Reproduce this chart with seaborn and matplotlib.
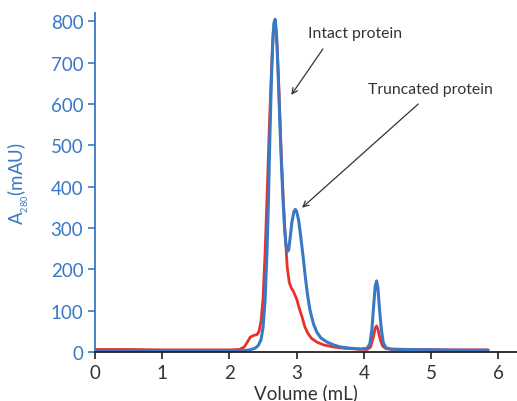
import numpy as np
import pandas as pd
import matplotlib
matplotlib.use("Agg")
import matplotlib.pyplot as plt
import seaborn as sns

# Chromatogram traces (volume in mL, absorbance in mAU)
blue_volume = [0.0, 1.0, 1.8, 2.0, 2.2, 2.3, 2.38, 2.43, 2.47, 2.50, 2.53, 2.56,
               2.58, 2.60, 2.62, 2.64, 2.66, 2.68, 2.70, 2.72, 2.74, 2.76, 2.78,
               2.80, 2.82, 2.84, 2.86, 2.88, 2.90, 2.93, 2.96, 2.98, 3.00, 3.03,
               3.06, 3.10, 3.13, 3.16, 3.20, 3.25, 3.30, 3.36, 3.45, 3.55, 3.65,
               3.80, 3.95, 4.05, 4.09, 4.12, 4.15, 4.17, 4.19, 4.21, 4.23, 4.26,
               4.29, 4.33, 4.40, 4.60, 5.00, 5.50, 5.85]
blue_abs = [1, 1, 1, 2, 3, 5, 9, 16, 30, 60, 125, 250,
            370, 510, 635, 735, 795, 805, 770, 690, 600, 510, 430,
            360, 300, 262, 243, 246, 272, 315, 340, 345, 340, 318,
            280, 225, 180, 140, 100, 68, 48, 34, 24, 17, 12,
            9, 7, 9, 20, 55, 120, 160, 172, 155, 110, 55,
            22, 10, 7, 6, 5, 4, 4]

red_volume = [0.0, 0.5, 1.0, 1.5, 2.0, 2.15, 2.22, 2.27, 2.31, 2.36, 2.41, 2.44,
              2.47, 2.50, 2.53, 2.56, 2.59, 2.62, 2.65, 2.68, 2.71, 2.74, 2.77,
              2.80, 2.83, 2.86, 2.89, 2.92, 2.95, 3.00, 3.04, 3.08, 3.12, 3.16,
              3.22, 3.30, 3.40, 3.55, 3.70, 3.90, 4.05, 4.10, 4.14, 4.17, 4.19,
              4.21, 4.24, 4.28, 4.33, 4.45, 4.80, 5.30, 5.85]
red_abs = [6, 6, 5, 5, 5, 6, 12, 25, 36, 40, 42, 50,
           75, 130, 240, 380, 530, 660, 770, 800, 740, 620, 480,
           370, 280, 205, 168, 155, 147, 128, 105, 85, 62, 47,
           33, 24, 17, 12, 9, 7, 6, 12, 35, 58, 63,
           55, 32, 14, 8, 6, 6, 5, 5]

y_ticks = [0, 100, 200, 300, 400, 500, 600, 700, 800]
x_ticks = [0, 1, 2, 3, 4, 5, 6]

blue = "#3a78c4"
red = "#e8312b"
dark = "#333333"

sns.set_style("ticks")
plt.rcParams["font.family"] = ["Lato", "DejaVu Sans"]
plt.rcParams["mathtext.default"] = "regular"

fig = plt.figure(figsize=(5.17, 4.02), dpi=100)
ax = fig.add_axes([0.184, 0.122, 0.816, 0.843])

sns.lineplot(x=red_volume, y=red_abs, ax=ax, color=red, linewidth=2.0, sort=False)
sns.lineplot(x=blue_volume, y=blue_abs, ax=ax, color=blue, linewidth=2.2, sort=False)

ax.set_xlim(0, 6.28)
ax.set_ylim(0, 820)
ax.set_xticks(x_ticks)
ax.set_yticks(y_ticks)
sns.despine(ax=ax)

ax.spines["left"].set_color(blue)
ax.spines["left"].set_linewidth(1.3)
ax.spines["bottom"].set_color("#222222")
ax.spines["bottom"].set_linewidth(1.3)
ax.tick_params(axis="y", colors=blue, labelsize=13.5, length=5, width=1.2)
ax.tick_params(axis="x", colors="#222222", labelcolor=dark, labelsize=13.5,
               length=5, width=1.2)

ax.set_xlabel("Volume (mL)", fontsize=13.5, color=dark, labelpad=2)
ax.set_ylabel(r"A$_{_{280}}$(mAU)", fontsize=13.5, color=blue, labelpad=14)

# annotations
arrow = dict(arrowstyle="->", color=dark, lw=0.9, shrinkA=0, shrinkB=0)
ax.annotate("", xy=(2.92, 622), xytext=(3.39, 733), arrowprops=arrow)
ax.text(3.87, 771, "Intact protein", fontsize=11.3, color=dark,
        ha="center", va="center")
ax.annotate("", xy=(3.08, 349), xytext=(4.81, 600), arrowprops=arrow)
ax.text(4.99, 636, "Truncated protein", fontsize=11.3, color=dark,
        ha="center", va="center")

fig.savefig("out.png", dpi=100)
